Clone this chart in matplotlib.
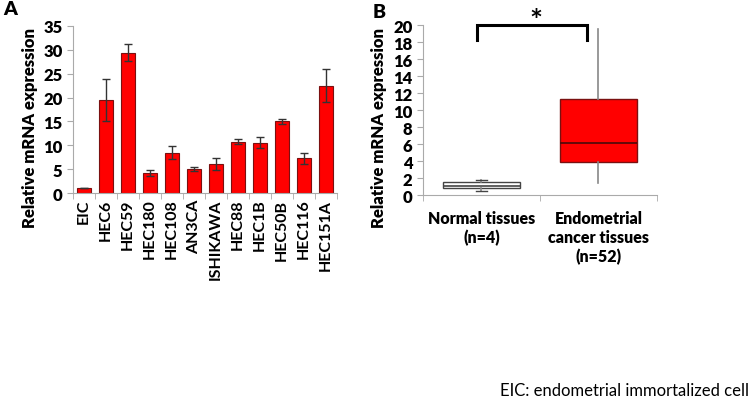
import numpy as np
import matplotlib.pyplot as plt

plt.rcParams['font.family'] = ['Lato', 'DejaVu Sans']

# panel A data
cells = ['EIC', 'HEC6', 'HEC59', 'HEC180', 'HEC108', 'AN3CA', 'ISHIKAWA',
         'HEC88', 'HEC1B', 'HEC50B', 'HEC116', 'HEC151A']
expr = [1.0, 19.5, 29.4, 4.2, 8.5, 5.0, 6.1, 10.8, 10.6, 15.0, 7.3, 22.5]
err = [0.0, 4.3, 1.8, 0.7, 1.3, 0.4, 1.3, 0.6, 1.1, 0.6, 1.2, 3.5]

# panel B box stats
groups = ['Normal tissues\n(n=4)', 'Endometrial\ncancer tissues\n(n=52)']
q1 = [0.85, 3.9]
med = [1.1, 6.1]
q3 = [1.5, 11.3]
wlo = [0.5, 1.4]
whi = [1.8, 19.6]
box_colors = ['white', '#ff0000']

fig = plt.figure(figsize=(7.5, 4.02), dpi=100)

# ---- A ----
axA = fig.add_axes([0.0973, 0.517, 0.352, 0.416])
x = np.arange(len(cells))
axA.bar(x, expr, width=0.62, color='#ff0000', edgecolor='#7a1010', linewidth=0.8,
        yerr=err, error_kw=dict(ecolor='#333333', elinewidth=1, capsize=3, capthick=1))
axA.set_xlim(-0.5, len(cells) - 0.5)
axA.set_ylim(0, 35)
axA.set_yticks(np.arange(0, 36, 5))
axA.set_xticks(x)
axA.set_xticklabels(cells, rotation=90, fontweight='bold', fontsize=11.5)
axA.tick_params(axis='x', length=0, pad=4)
axA.set_xticks(np.arange(-0.5, len(cells), 1), minor=True)
axA.tick_params(axis='x', which='minor', length=4, color='#aaaaaa', direction='out')
axA.tick_params(axis='y', length=4, color='#aaaaaa', labelsize=12)
for t in axA.get_yticklabels():
    t.set_fontweight('heavy')
axA.set_ylabel('Relative mRNA expression', fontsize=12, fontweight='heavy')
axA.yaxis.set_label_coords(-0.133, 0.395)
for s in ['top', 'right']:
    axA.spines[s].set_visible(False)
for s in ['left', 'bottom']:
    axA.spines[s].set_color('#aaaaaa')

# ---- B ----
axB = fig.add_axes([0.564, 0.5124, 0.312, 0.4226])
stats = []
for i in range(2):
    stats.append(dict(med=med[i], q1=q1[i], q3=q3[i], whislo=wlo[i], whishi=whi[i], fliers=[]))
bp = axB.bxp(stats, positions=[0, 1], widths=0.66, patch_artist=True, showfliers=False,
             medianprops=dict(color='#4a0a0a', linewidth=1.2),
             whiskerprops=dict(color='#888888', linewidth=1.2),
             capprops=dict(color='#444444', linewidth=1), boxprops=dict(linewidth=1))
for patch, c in zip(bp['boxes'], box_colors):
    patch.set_facecolor(c)
    patch.set_edgecolor('#444444' if c == 'white' else '#7a1010')
bp['medians'][0].set_color('#444444')
bp['caps'][2].set_visible(False)
bp['caps'][3].set_visible(False)
bp['caps'][0].set_xdata([-0.05, 0.05])
bp['caps'][1].set_xdata([-0.05, 0.05])
axB.set_xlim(-0.5, 1.5)
axB.set_ylim(0, 20)
axB.set_yticks(np.arange(0, 21, 2))
axB.set_xticks([0, 1])
axB.set_xticklabels(groups, fontweight='heavy', fontsize=11.5, linespacing=1.2)
axB.tick_params(axis='x', length=0, pad=11)
axB.set_xticks([-0.5, 0.5, 1.5], minor=True)
axB.tick_params(axis='x', which='minor', length=4, color='#aaaaaa')
axB.tick_params(axis='y', length=4, color='#aaaaaa', labelsize=12)
for t in axB.get_yticklabels():
    t.set_fontweight('heavy')
axB.set_ylabel('Relative mRNA expression', fontsize=12, fontweight='heavy')
axB.yaxis.set_label_coords(-0.154, 0.4)
for s in ['top', 'right']:
    axB.spines[s].set_visible(False)
for s in ['left', 'bottom']:
    axB.spines[s].set_color('#aaaaaa')

# significance bracket
axB.plot([-0.04, -0.04, 0.9, 0.9], [18.3, 20, 20, 18.3], color='black', lw=2.2,
         clip_on=False, solid_joinstyle='miter')
axB.text(0.466, 18.8, '*', ha='center', va='bottom', fontsize=22, fontweight='bold')

fig.text(0.004, 0.997, 'A', fontsize=14, fontweight='heavy', va='top')
fig.text(0.497, 0.99, 'B', fontsize=14, fontweight='heavy', va='top')
fig.text(0.998, 0.008, 'EIC: endometrial immortalized cell', fontsize=12, ha='right', va='bottom')

fig.savefig('out.png', dpi=100)
